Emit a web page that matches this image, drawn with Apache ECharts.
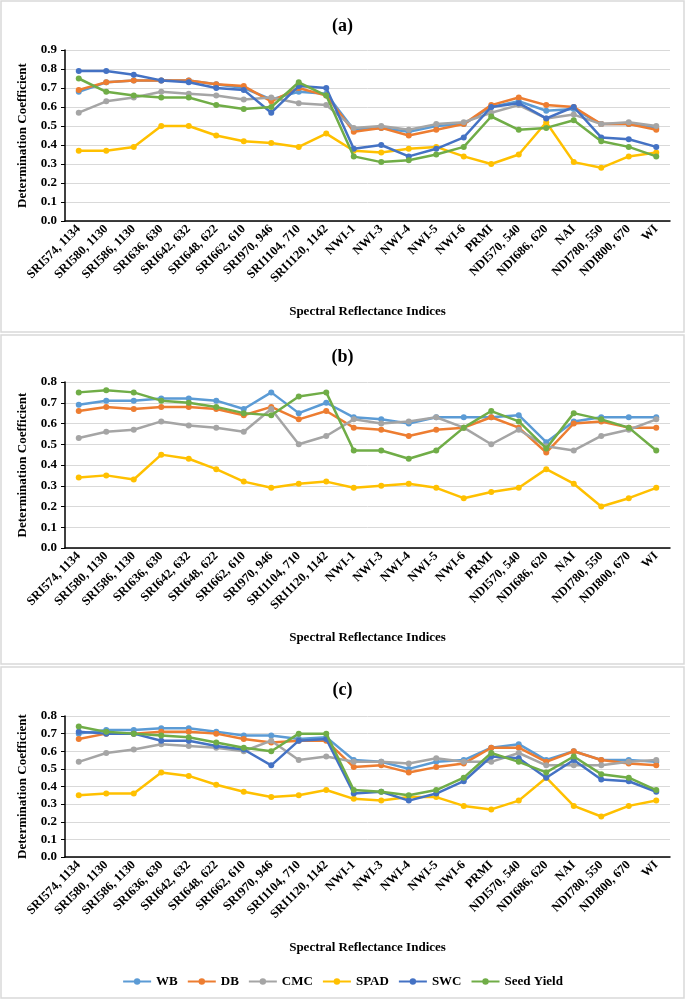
<!DOCTYPE html>
<html>
<head>
<meta charset="utf-8">
<script src="https://cdn.jsdelivr.net/npm/echarts@6/dist/echarts.min.js"></script>
<style>
html,body{margin:0;padding:0;background:#fff;}
#chart{width:685px;height:1000px;}
</style>
</head>
<body>
<div id="chart"></div>
<script>
const categories = ['SRI574, 1134','SRI580, 1130','SRI586, 1130','SRI636, 630','SRI642, 632','SRI648, 622','SRI662, 610','SRI970, 946','SRI1104, 710','SRI1120, 1142','NWI-1','NWI-3','NWI-4','NWI-5','NWI-6','PRMI','NDI570, 540','NDI686, 620','NAI','NDI780, 550','NDI800, 670','WI'];
const seriesNames = ['WB','DB','CMC','SPAD','SWC','Seed Yield'];
const panelTitles = ['(a)','(b)','(c)'];
const yTicksA = [0.0,0.1,0.2,0.3,0.4,0.5,0.6,0.7,0.8,0.9];
const yTicksBC = [0.0,0.1,0.2,0.3,0.4,0.5,0.6,0.7,0.8];

// Panel (a)
const wbA   = [0.68,0.73,0.74,0.74,0.74,0.72,0.70,0.64,0.68,0.67,0.48,0.49,0.47,0.50,0.51,0.60,0.63,0.58,0.59,0.51,0.51,0.49];
const dbA   = [0.69,0.73,0.74,0.74,0.74,0.72,0.71,0.63,0.70,0.66,0.47,0.49,0.45,0.48,0.51,0.61,0.65,0.61,0.60,0.51,0.51,0.48];
const cmcA  = [0.57,0.63,0.65,0.68,0.67,0.66,0.64,0.65,0.62,0.61,0.49,0.50,0.48,0.51,0.52,0.57,0.61,0.54,0.56,0.51,0.52,0.50];
const spadA = [0.37,0.37,0.39,0.50,0.50,0.45,0.42,0.41,0.39,0.46,0.37,0.36,0.38,0.39,0.34,0.30,0.35,0.52,0.31,0.28,0.34,0.36];
const swcA  = [0.79,0.79,0.77,0.74,0.73,0.70,0.69,0.57,0.71,0.70,0.38,0.40,0.34,0.38,0.44,0.60,0.62,0.54,0.60,0.44,0.43,0.39];
const seedA = [0.75,0.68,0.66,0.65,0.65,0.61,0.59,0.60,0.73,0.66,0.34,0.31,0.32,0.35,0.39,0.55,0.48,0.49,0.53,0.42,0.39,0.34];

// Panel (b)
const wbB   = [0.69,0.71,0.71,0.72,0.72,0.71,0.67,0.75,0.65,0.70,0.63,0.62,0.60,0.63,0.63,0.63,0.64,0.51,0.61,0.63,0.63,0.63];
const dbB   = [0.66,0.68,0.67,0.68,0.68,0.67,0.64,0.68,0.62,0.66,0.58,0.57,0.54,0.57,0.58,0.63,0.58,0.46,0.60,0.61,0.58,0.58];
const cmcB  = [0.53,0.56,0.57,0.61,0.59,0.58,0.56,0.67,0.50,0.54,0.62,0.60,0.61,0.63,0.58,0.50,0.57,0.49,0.47,0.54,0.57,0.62];
const spadB = [0.34,0.35,0.33,0.45,0.43,0.38,0.32,0.29,0.31,0.32,0.29,0.30,0.31,0.29,0.24,0.27,0.29,0.38,0.31,0.20,0.24,0.29];
const swcB  = [];
const seedB = [0.75,0.76,0.75,0.71,0.70,0.68,0.65,0.64,0.73,0.75,0.47,0.47,0.43,0.47,0.58,0.66,0.61,0.48,0.65,0.62,0.58,0.47];

// Panel (c)
const wbC   = [0.70,0.72,0.72,0.73,0.73,0.71,0.69,0.69,0.67,0.68,0.55,0.54,0.50,0.54,0.55,0.62,0.64,0.55,0.60,0.55,0.55,0.54];
const dbC   = [0.67,0.70,0.70,0.71,0.71,0.70,0.67,0.65,0.66,0.66,0.51,0.52,0.48,0.51,0.53,0.62,0.62,0.54,0.60,0.55,0.53,0.52];
const cmcC  = [0.54,0.59,0.61,0.64,0.63,0.62,0.60,0.66,0.55,0.57,0.54,0.54,0.53,0.56,0.54,0.54,0.59,0.52,0.52,0.52,0.54,0.55];
const spadC = [0.35,0.36,0.36,0.48,0.46,0.41,0.37,0.34,0.35,0.38,0.33,0.32,0.34,0.34,0.29,0.27,0.32,0.45,0.29,0.23,0.29,0.32];
const swcC  = [0.71,0.70,0.70,0.66,0.66,0.63,0.61,0.52,0.66,0.67,0.36,0.37,0.32,0.36,0.43,0.57,0.56,0.45,0.55,0.44,0.43,0.37];
const seedC = [0.74,0.71,0.70,0.69,0.68,0.65,0.62,0.60,0.70,0.70,0.38,0.37,0.35,0.38,0.45,0.59,0.54,0.48,0.57,0.47,0.45,0.38];

const panelData = [
  [wbA, dbA, cmcA, spadA, swcA, seedA],
  [wbB, dbB, cmcB, spadB, swcB, seedB],
  [wbC, dbC, cmcC, spadC, swcC, seedC]
];
const colors = ['#5B9BD5','#ED7D31','#A5A5A5','#FFC000','#4472C4','#70AD47'];
const FONT = "'Liberation Serif','Times New Roman',serif";

const grids = [
  {left:65, right:15, top:50, height:171},
  {left:65, right:15, top:382, height:166},
  {left:65, right:15, top:716, height:141}
];
const yMax = [yTicksA[yTicksA.length-1], yTicksBC[yTicksBC.length-1], yTicksBC[yTicksBC.length-1]];
const titleTops = [12, 343, 676];
const xNameGaps = [84, 83, 84];

const xAxes = grids.map((g,i)=>({
  type:'category', gridIndex:i, data:categories, boundaryGap:true,
  axisLine:{show:true, lineStyle:{color:'#000', width:1.5}},
  axisTick:{show:false},
  axisLabel:{rotate:45, interval:0, fontFamily:FONT, fontWeight:'bold', fontSize:12.5, color:'#000', margin:6},
  name:'Spectral Reflectance Indices', nameLocation:'middle', nameGap:xNameGaps[i],
  nameTextStyle:{fontFamily:FONT, fontWeight:'bold', fontSize:13, color:'#000'}
}));
const yAxes = grids.map((g,i)=>({
  type:'value', gridIndex:i, min:0, max:yMax[i], interval:0.1,
  axisLine:{show:true, lineStyle:{color:'#000', width:1.5}},
  axisTick:{show:true, length:4, lineStyle:{color:'#000'}},
  splitLine:{show:true, lineStyle:{color:'#d9d9d9', width:1}},
  axisLabel:{formatter:v=>v.toFixed(1), fontFamily:FONT, fontWeight:'bold', fontSize:13, color:'#000', margin:8},
  name:'Determination Coefficient', nameLocation:'middle', nameGap:36, nameRotate:90,
  nameTextStyle:{fontFamily:FONT, fontWeight:'bold', fontSize:13, color:'#000'}
}));

const series = [];
panelData.forEach((arrs, p)=>{
  arrs.forEach((d, k)=>{
    if (!d.length) return;
    series.push({
      type:'line', name:seriesNames[k], xAxisIndex:p, yAxisIndex:p,
      data:d, symbol:'circle', symbolSize:6,
      lineStyle:{width:2.5, color:colors[k]}, itemStyle:{color:colors[k]},
      z: 2 + k
    });
  });
});

const chart = echarts.init(document.getElementById('chart'), null, {renderer:'canvas'});
chart.setOption({
  animation:false,
  backgroundColor:'#fff',
  color:colors,
  title: panelTitles.map((t,i)=>({text:t, left:'center', top:titleTops[i],
    textStyle:{fontFamily:FONT, fontWeight:'bold', fontSize:18, color:'#000'}})),
  graphic:[
    {type:'rect', shape:{x:1, y:1, width:683, height:331}, style:{fill:'none', stroke:'#d9d9d9', lineWidth:1.5}, silent:true},
    {type:'rect', shape:{x:1, y:335, width:683, height:329}, style:{fill:'none', stroke:'#d9d9d9', lineWidth:1.5}, silent:true},
    {type:'rect', shape:{x:1, y:667, width:683, height:331}, style:{fill:'none', stroke:'#d9d9d9', lineWidth:1.5}, silent:true}
  ],
  legend:{
    data:seriesNames, top:970, left:'center', itemWidth:28, itemHeight:8, itemGap:9,
    textStyle:{fontFamily:FONT, fontWeight:'bold', fontSize:13, color:'#000'}
  },
  grid:grids,
  xAxis:xAxes,
  yAxis:yAxes,
  series:series
});
</script>
</body>
</html>
